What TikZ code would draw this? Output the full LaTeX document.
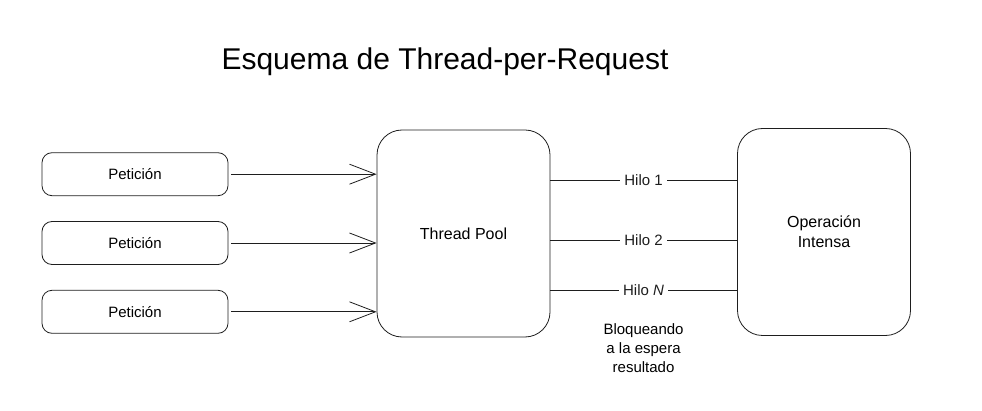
\documentclass[tikz,border=0pt]{standalone}
\usepackage{fontspec}
\setmainfont{Liberation Sans}
\usepackage{tikz}
\usetikzlibrary{arrows.meta, positioning}
\definecolor{inkgray}{RGB}{30,30,30}

\begin{document}
\begin{tikzpicture}[
    x=1pt, y=-1pt,
    node distance=25pt and 145pt,
    request/.style={rectangle, rounded corners=10pt, minimum width=186pt, minimum height=43pt, draw=inkgray, thick, font=\fontsize{15}{17}\selectfont},
    bigbox/.style={rectangle, rounded corners=25pt, minimum width=173pt, minimum height=207pt, draw=inkgray, thick, font=\fontsize{16}{20}\selectfont, align=center},
    thread/.style={fill=white, inner sep=4pt, font=\fontsize{15}{17}\selectfont},
    arrow/.style={-{Straight Barb[length=26pt, width=20pt]}, thick, inkgray},
    link/.style={thick, inkgray}
]
\useasboundingbox (0,0) rectangle (982,411);

% Title
\node[font=\fontsize{30}{34}\selectfont] (title) at (445,62) {Esquema de Thread-per-Request};

% Thread pool and operation
\node[bigbox] (pool) at (463.5,233.5) {Thread Pool};
\node[bigbox] (oper) at (824,232) {Operación\\Intensa};

% Requests
\node[request] (req2) at (135,243) {Petición};
\node[request, above=25pt of req2] (req1) {Petición};
\node[request, below=25pt of req2] (req3) {Petición};

% Arrows into the pool
\draw[arrow] (req1.east) ++(3pt,0) coordinate (r1) -- (r1 -| pool.west);
\draw[arrow] (req2.east) ++(3pt,0) coordinate (r2) -- (r2 -| pool.west);
\draw[arrow] (req3.east) ++(3pt,0) coordinate (r3) -- (r3 -| pool.west);

% Threads
\coordinate (h1) at (550,180);
\coordinate (h2) at (550,240);
\coordinate (hn) at (550,290);
\draw[link] (h1) -- node[thread] (t1) {Hilo 1} (h1 -| oper.west);
\draw[link] (h2) -- node[thread] (t2) {Hilo 2} (h2 -| oper.west);
\draw[link] (hn) -- node[thread] (tn) {Hilo \textit{N}} (hn -| oper.west);

% Note
\node[align=center, font=\fontsize{15}{19}\selectfont, below=20pt of tn] (note) {Bloqueando\\a la espera\\resultado};

\end{tikzpicture}
\end{document}
